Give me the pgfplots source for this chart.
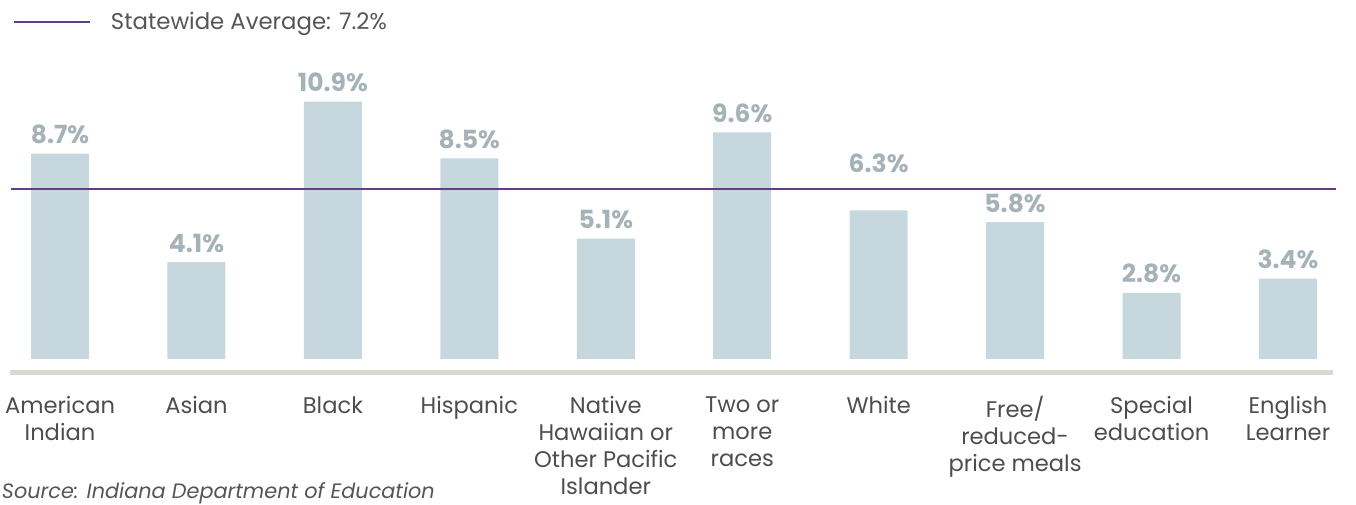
\documentclass[border=0pt]{standalone}
\usepackage{fontspec}
\setmainfont{Poppins}
\usepackage{pgfplots}
\pgfplotsset{compat=1.18}
\usepackage{pgfplotstable}
\definecolor{barc}{HTML}{C6D7DE}
\definecolor{valc}{HTML}{A5B2B8}
\definecolor{catc}{HTML}{4D4D4D}
\definecolor{legc}{HTML}{555555}
\definecolor{avgc}{HTML}{653D86}
\definecolor{basec}{HTML}{D9D9D2}
\pgfplotstableread{
x y off
0 8.7 5
1 4.1 5
2 10.9 5
3 8.5 5
4 5.1 5
5 9.6 5
6 6.3 19
7 5.8 5
8 2.8 5
9 3.4 5
}\datatable
\begin{document}
\begin{tikzpicture}
\useasboundingbox (0,0) rectangle (678pt,252pt);
\begin{axis}[
  at={(5pt,72.5pt)}, anchor=south west,
  scale only axis, width=663pt, height=179.5pt,
  xmin=-0.3665, xmax=9.352, ymin=0, ymax=15.21,
  axis line style={draw=none}, major tick length=0pt, ytick=\empty,
  /pgf/number format/assume math mode=true,
  xtick={0,...,9},
  xticklabels={{American\\Indian},Asian,Black,Hispanic,{Native\\Hawaiian or\\Other Pacific\\Islander},{Two or\\more\\races},White,{Free/\\reduced-\\price meals},{Special\\education},{English\\Learner}},
  xticklabel style={font=\fontsize{11.3}{13.5}\selectfont, text=catc, align=center, anchor=north, inner sep=0pt, yshift=-18.5pt},
  clip=false,
  legend style={at={(axis description cs:0.0015,0.9387)}, anchor=west, draw=none, fill=none, inner sep=0pt,
     font=\fontsize{11.4}{13.5}\selectfont, text=legc},
  legend cell align=left,
  legend image code/.code={\draw[#1] (0pt,0pt) -- (38pt,0pt); \path (46pt,0pt);},
]
\addplot[ybar, bar width=29pt, fill=barc, draw=none, forget plot,
  visualization depends on={\thisrow{off} \as \off},
  nodes near coords={\pgfmathprintnumber[fixed,precision=1,fixed zerofill,assume math mode=true]{\pgfplotspointmeta}\%},
  every node near coord/.append style={anchor=base, yshift=\off pt, inner sep=0pt,
     font=\fontsize{12.5}{13}\selectfont\bfseries, text=valc},
  point meta=y] table[x=x,y=y] {\datatable};
\draw[basec, line width=2.5pt] (axis cs:-0.3665,-0.572) -- (axis cs:9.33,-0.572);
\addplot[avgc, line width=1.3pt] coordinates {(-0.359,7.2) (9.352,7.2)};
\addlegendentry{Statewide Average: 7.2\%}
\end{axis}
\node[anchor=base west, inner sep=0pt, font=\fontsize{10.4}{12}\selectfont\itshape, text=legc] at (0.8pt,2.8pt) {Source: Indiana Department of Education};
\end{tikzpicture}
\end{document}
